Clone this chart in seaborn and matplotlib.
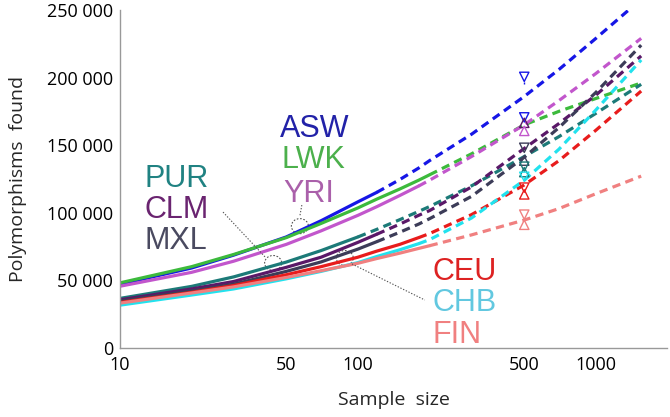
import matplotlib
matplotlib.use("Agg")
import matplotlib.pyplot as plt
import seaborn as sns
import pandas as pd
from matplotlib.patches import Ellipse
from matplotlib.transforms import ScaledTranslation
from matplotlib.ticker import FixedLocator, LogLocator, MultipleLocator, NullFormatter, FuncFormatter

# Sample sizes (haplotypes) at which the curves were read
sample_sizes = [10, 20, 30, 50, 70, 100, 120, 150, 180, 200, 300, 500, 700, 1000, 1550]

populations = ["ASW", "LWK", "YRI", "PUR", "CLM", "MXL", "CEU", "CHB", "FIN"]

asw = [47000, 59000, 68500, 82000, 94000, 108000, 115000, 124500, 133000, 138500, 158000, 186000, 206000, 229000, 258000]
lwk = [48000, 60000, 69000, 81500, 92000, 103500, 110000, 117500, 124000, 128000, 143500, 165000, 175000, 184500, 196000]
yri = [45500, 55800, 64000, 76500, 86500, 98000, 104400, 112700, 119700, 124000, 141500, 165000, 183000, 203000, 229000]
pur = [36500, 45400, 52400, 63400, 71900, 82000, 87600, 94800, 100900, 104500, 119800, 141500, 156300, 173500, 195000]
clm = [35500, 43500, 49000, 59500, 67000, 78000, 84000, 91500, 98000, 101500, 119000, 147500, 166000, 187000, 216000]
mxl = [34500, 42000, 47000, 56500, 63500, 73000, 78500, 85500, 91500, 95500, 112000, 141000, 163000, 189000, 224000]
ceu = [33500, 41000, 46000, 54000, 60000, 67000, 71500, 76500, 81500, 84500, 98500, 120500, 138500, 161000, 190000]
chb = [31500, 39000, 43500, 51000, 56500, 63000, 67500, 72500, 77000, 80000, 96000, 124000, 147000, 176000, 213000]
fin = [33000, 40500, 45000, 52000, 57000, 62500, 66000, 70000, 73500, 75500, 83500, 94500, 103000, 114000, 127000]
series = [asw, lwk, yri, pur, clm, mxl, ceu, chb, fin]

# last sample size covered by real data (solid); beyond it the curve is projected (dashed)
observed_until = [120, 200, 180, 100, 120, 120, 180, 180, 200]

line_colors = ["#1616e6", "#3cba3c", "#c256cc", "#1c7a78", "#5a1868", "#3c3c58", "#e81c1c", "#22e2ee", "#f08080"]
text_colors = ["#2222a8", "#4cb04c", "#aa60aa", "#208282", "#6a2470", "#4a4a60", "#dd2222", "#62c8e0", "#f08080"]

# estimates at n = 500
marker_n = 500
marker_pops = ["ASW", "ASW", "ASW", "CLM", "YRI", "MXL", "MXL", "PUR", "PUR", "CHB", "CEU", "CEU", "FIN", "FIN"]
marker_shapes = ["v", "_", "v", "^", "^", "v", "^", "v", "^", "v", "v", "^", "v", "^"]
marker_values = [200500, 195500, 170500, 166500, 160500, 148000, 138500, 134000, 130000, 126500, 118500, 113500, 98500, 91000]

rows = []
for pop, vals, n in zip(populations, series, observed_until):
    for s, v in zip(sample_sizes, vals):
        if s <= n:
            rows.append((pop, "observed", s, v))
        if s >= n:
            rows.append((pop, "projected", s, v))
df = pd.DataFrame(rows, columns=["pop", "part", "size", "found"])

sns.set_style("white")
plt.rcParams["font.family"] = ["Open Sans", "DejaVu Sans"]

fig = plt.figure(figsize=(6.7, 4.17), dpi=100)
ax = fig.add_axes([120 / 670, 69.3 / 417, 547 / 670, 337.7 / 417])

sns.lineplot(data=df, x="size", y="found", hue="pop", style="part",
             hue_order=populations, palette=dict(zip(populations, line_colors)),
             dashes={"observed": "", "projected": (2.6, 1.7)},
             estimator=None, sort=False, linewidth=2.3, legend=False, ax=ax)

pop_color = dict(zip(populations, line_colors))
mk = pd.DataFrame({"pop": marker_pops, "shape": marker_shapes, "found": marker_values})
asw_mk = mk[mk["pop"] == "ASW"]
ax.vlines(marker_n, asw_mk["found"].iloc[1], asw_mk["found"].iloc[0] - 3500, color=pop_color["ASW"], lw=1)
for _, r in mk.iterrows():
    ax.scatter([marker_n], [r["found"]], marker=r["shape"], s=45, facecolors="none",
               edgecolors=pop_color[r["pop"]], color=pop_color[r["pop"]], linewidths=1, zorder=5)

ax.set_xscale("log")
ax.set_xlim(10, 1990)
ax.set_ylim(0, 250000)

ax.xaxis.set_major_locator(FixedLocator([10, 50, 100, 500, 1000]))
ax.xaxis.set_major_formatter(FuncFormatter(lambda v, p: f"{int(v)}"))
ax.xaxis.set_minor_locator(LogLocator(base=10, subs=range(2, 10), numticks=20))
ax.xaxis.set_minor_formatter(NullFormatter())
ax.yaxis.set_major_locator(MultipleLocator(50000))
ax.yaxis.set_minor_locator(MultipleLocator(10000))
ax.yaxis.set_major_formatter(FuncFormatter(lambda v, p: f"{int(v):,}".replace(",", " ")))

ax.tick_params(which="major", direction="in", length=6, width=0.8, color="#999999",
               labelsize=13, labelcolor="black", pad=5)
ax.tick_params(which="minor", direction="in", length=3, width=0.8, color="#999999")
ax.tick_params(axis="x", which="major", pad=6)
for side in ["top", "right"]:
    ax.spines[side].set_visible(False)
for side in ["left", "bottom"]:
    ax.spines[side].set_color("#999999")
    ax.spines[side].set_linewidth(1)

ax.set_xlabel("Sample  size", fontsize=14, labelpad=12)
ax.set_ylabel("Polymorphisms  found", fontsize=14, labelpad=14)

# population labels
label_pos = {
    "ASW": (0.2925, 0.624), "LWK": (0.296, 0.532), "YRI": (0.298, 0.431),
    "PUR": (0.0457, 0.475), "CLM": (0.0457, 0.384), "MXL": (0.0457, 0.292),
    "CEU": (0.572, 0.2005), "CHB": (0.572, 0.109), "FIN": (0.572, 0.014),
}
for pop, tc in zip(populations, text_colors):
    x, y = label_pos[pop]
    ax.text(x, y, pop, transform=ax.transAxes, color=tc, fontsize=22,
            family="Liberation Sans", ha="left", va="baseline")

# dotted group circles and connectors
for cx, cy in [(57, 90000), (44, 62700), (88, 66400)]:
    e = Ellipse((0, 0), 0.17, 0.15, fill=False, ls=(0, (1.5, 1.5)), lw=0.8, ec="#555555",
                transform=fig.dpi_scale_trans + ScaledTranslation(cx, cy, ax.transData))
    ax.add_artist(e)
for (x1, y1), (x2, y2) in [((27.1, 100400), (41.1, 66400)),
                           ((58.1, 105600), (57.0, 97500)),
                           ((94.4, 62000), (191, 35300))]:
    ax.plot([x1, x2], [y1, y2], ls=(0, (1.2, 1.5)), lw=0.8, color="#555555")

fig.savefig("out.png", dpi=100)
